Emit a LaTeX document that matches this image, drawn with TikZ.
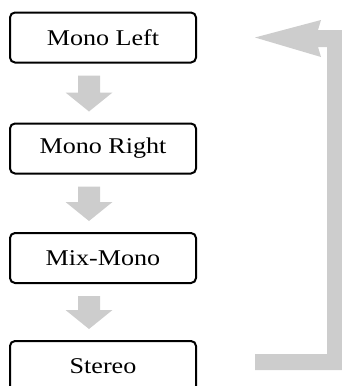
\documentclass[tikz,border=0pt]{standalone}
\usepackage{fontspec}
\usetikzlibrary{calc}
\newfontfamily\tnr[FakeStretch=1.16]{Liberation Serif}
\definecolor{arrgray}{RGB}{205,205,205}
\begin{document}
\begin{tikzpicture}[x=1pt,y=-1pt,
  box/.style={draw=black,line width=2pt,rounded corners=5pt,fill=white,
    minimum width=186pt,minimum height=50pt,inner sep=0pt,
    font=\tnr\fontsize{22.5pt}{26pt}\selectfont},
  downarr/.style={fill=arrgray,draw=none}]
\useasboundingbox (0,0) rectangle (342,386);
\clip (0,0) rectangle (342,386);
\node[box] (ml) at (103,37.5) {Mono Left};
\node[box] (mr) at (103,148.5) {Mono Right};
\node[box] (mm) at (103,258) {Mix-Mono};
\node[box] (st) at (103,366) {Stereo};
% down arrows between boxes
\foreach \a/\b in {ml/mr,mr/mm,mm/st}{
  \path ($(\a.south)+(-14,12)$) coordinate (s)
        ($(\b.north)+(-14,-11)$) coordinate (e);
  \fill[downarr] ($(s)+(-11,0)$) -- ($(s)+(11,0)$) -- ($(e)+(11,-19)$) -- ($(e)+(23.5,-19)$)
     -- (e) -- ($(e)+(-23.5,-19)$) -- ($(e)+(-11,-19)$) -- cycle;
}
% return arrow from Stereo back to Mono Left
\fill[downarr] (255,354) -- (327,354) -- (327,47) -- (318,47) -- (321,57) -- (255,37.5)
  -- (321,20) -- (318,30) -- (345,30) -- (345,370) -- (255,370) -- cycle;
\end{tikzpicture}
\end{document}
